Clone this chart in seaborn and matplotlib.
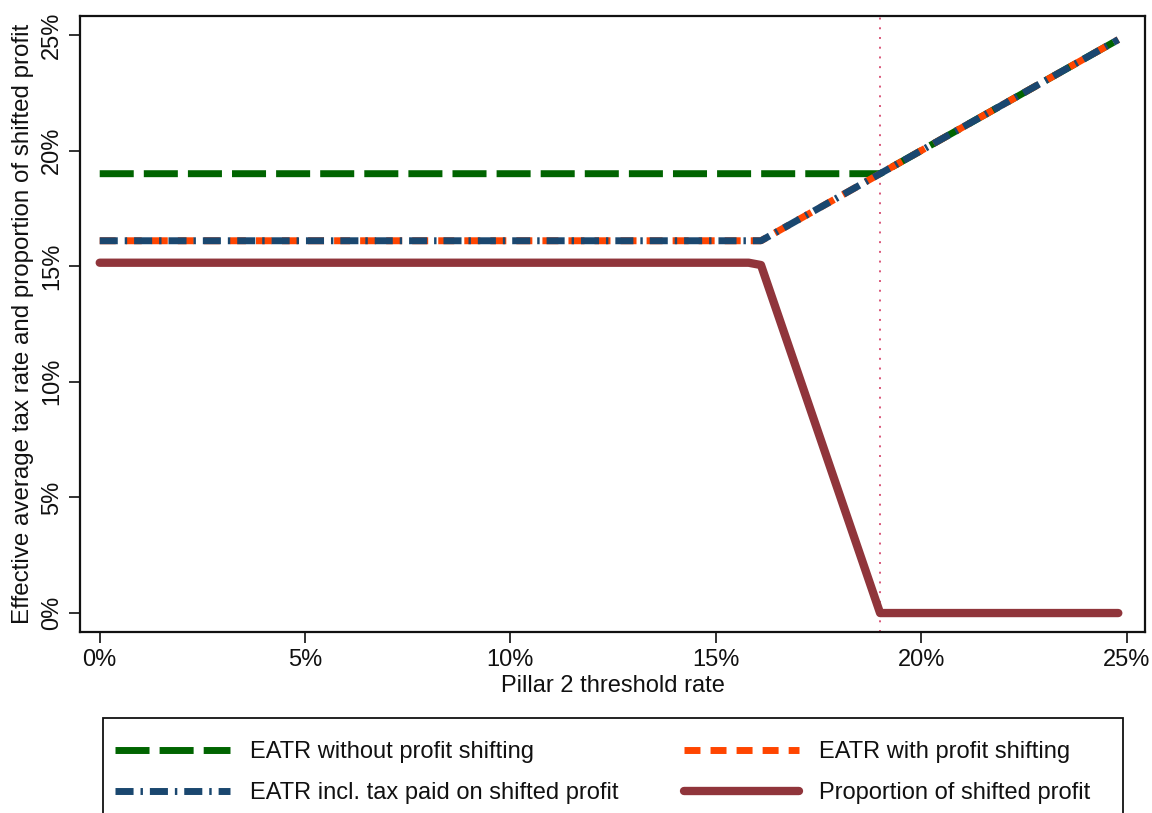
import matplotlib
matplotlib.use("Agg")
import matplotlib.pyplot as plt
import matplotlib.patches as mpatches
import seaborn as sns
from matplotlib.ticker import FuncFormatter

# ---- data ----
green_x = [0.0, 19.0, 24.8]
green_y = [19.0, 19.0, 24.8]
orange_x = [0.0, 16.1, 24.8]
orange_y = [16.1, 16.1, 24.8]
blue_x = [0.0, 16.1, 24.8]
blue_y = [16.1, 16.1, 24.8]
red_x = [0.0, 15.8, 16.1, 19.0, 24.8]
red_y = [15.15, 15.15, 15.05, 0.0, 0.0]
vline_x = 19.0
ticks = [0, 5, 10, 15, 20, 25]
labels = ["EATR without profit shifting", "EATR incl. tax paid on shifted profit",
          "EATR with profit shifting", "Proportion of shifted profit"]

sns.set_theme(style="white")
plt.rcParams['font.family'] = ['Liberation Sans', 'DejaVu Sans']

FS = 17
W, H = 1152, 813
fig = plt.figure(figsize=(W / 100, H / 100), dpi=100)
ax = fig.add_axes([80 / W, 1 - 632 / H, (1145 - 80) / W, (632 - 16) / H])

GREEN = "#006400"
ORANGE = "#ff4500"
BLUE = "#1a476f"
RED = "#90353b"
LW = 5.0

ax.axvline(vline_x, color="#d9577a", lw=1.4, ls=(0, (1, 4)), zorder=1)

sns.lineplot(x=green_x, y=green_y, ax=ax, color=GREEN, lw=LW, zorder=2)
sns.lineplot(x=orange_x, y=orange_y, ax=ax, color=ORANGE, lw=LW, zorder=3)
sns.lineplot(x=blue_x, y=blue_y, ax=ax, color=BLUE, lw=LW, zorder=4)
sns.lineplot(x=red_x, y=red_y, ax=ax, color=RED, lw=LW + 1, zorder=5)

lines = ax.get_lines()
l_green, l_orange, l_blue, l_red = lines[1], lines[2], lines[3], lines[4]
l_green.set_linestyle((0, (4.9, 1.45)))
l_orange.set_linestyle((0, (2.3, 1.45)))
l_blue.set_linestyle((0, (2.6, 1.0, 0.35, 1.0)))
for l in (l_green, l_orange, l_blue):
    l.set_dash_capstyle("butt")
l_red.set_solid_capstyle("round")
l_red.set_solid_joinstyle("round")

ax.set_xlim(-0.48, 25.45)
ax.set_ylim(-0.82, 25.82)
ax.set_xticks(ticks)
ax.set_yticks(ticks)
pct = FuncFormatter(lambda v, p: f"{v:.0f}%")
ax.xaxis.set_major_formatter(pct)
ax.yaxis.set_major_formatter(pct)
ax.tick_params(axis="both", which="major", direction="out", length=8, width=1.3,
               color="#222222", labelsize=FS, labelcolor="#111111", pad=4,
               bottom=True, left=True)
for lab in ax.get_yticklabels():
    lab.set_rotation(90)
    lab.set_va("center")
for s in ax.spines.values():
    s.set_color("#111111")
    s.set_linewidth(1.6)

ax.set_xlabel("Pillar 2 threshold rate", fontsize=FS, color="#111111", labelpad=3)
ax.set_ylabel("Effective average tax rate and proportion of shifted profit",
              fontsize=17.4, color="#111111", labelpad=5)

# legend (frameless, with a separate box like the reference)
handles = [l_green, l_blue, l_orange, l_red]
leg = fig.legend(handles, labels, ncol=2, loc="upper left",
                 bbox_to_anchor=(115 / W, 1 - 741 / H),
                 fontsize=FS, frameon=False,
                 handlelength=4.85, handletextpad=0.85, labelspacing=0.8,
                 columnspacing=2.8, borderpad=0.0, borderaxespad=0.0)
for t in leg.get_texts():
    t.set_color("#111111")

box = mpatches.Rectangle((103 / W, -0.05), (1123 - 103) / W, (813 - 718) / H + 0.05,
                         transform=fig.transFigure, fill=False,
                         edgecolor="#111111", linewidth=1.3)
fig.patches.append(box)

fig.savefig("out.png", dpi=100)
